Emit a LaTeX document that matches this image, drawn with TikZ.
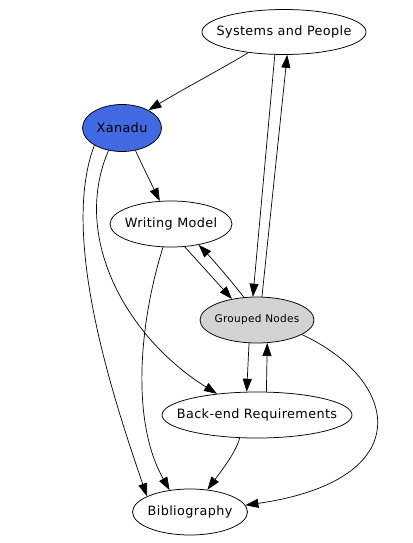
\documentclass[tikz,border=0pt]{standalone}
\usepackage{fontspec}
\setmainfont{DejaVu Sans}[LetterSpace=3]
\usetikzlibrary{shapes.geometric,arrows.meta}
\definecolor{xanblue}{RGB}{65,105,225}
\definecolor{grpgray}{RGB}{211,211,211}
\newcommand\nlbl[1]{\makebox[0pt]{#1}}
\tikzset{
  gvnode/.style={ellipse, draw=black, line width=0.75pt, inner sep=0pt, fill=white,
    font=\fontsize{12.8}{15}\selectfont},
  edge/.style={draw=black, line width=0.7pt, -{Triangle[length=13pt,width=9pt]}}
}
\begin{document}
\begin{tikzpicture}[x=1pt,y=-1pt]
\useasboundingbox (0,0) rectangle (412,543);
\node[gvnode, minimum width=164pt, minimum height=45pt] (sp) at (284,32) {\nlbl{Systems and People}};
\node[gvnode, minimum width=79pt, minimum height=47pt, fill=xanblue] (xa) at (122,128) {\nlbl{Xanadu}};
\node[gvnode, minimum width=122pt, minimum height=46pt] (wm) at (171,224) {\nlbl{Writing Model}};
\node[gvnode, minimum width=114pt, minimum height=46pt, fill=grpgray, font=\fontsize{10.5}{13}\selectfont] (gn) at (257,320) {\nlbl{Grouped Nodes}};
\node[gvnode, minimum width=190pt, minimum height=46pt] (be) at (257,415) {\nlbl{Back-end Requirements}};
\node[gvnode, minimum width=115pt, minimum height=46pt] (bi) at (190,512) {\nlbl{Bibliography}};

\draw[edge] (sp.210) .. controls (225,67) and (185,88) .. (xa.34);
\draw[edge] (sp.248) -- (gn.100);
\draw[edge] (gn.78) -- (sp.278);
\draw[edge] (xa.301) .. controls (142,165) and (152,185) .. (wm.116);
\draw[edge] (wm.301) -- (gn.140);
\draw[edge] (gn.120) .. controls (232,282) and (215,262) .. (wm.323);
\draw[edge] (xa.212) .. controls (60,235) and (112,395) .. (bi.160);
\draw[edge] (xa.239) .. controls (70,240) and (130,340) .. (be.152);
\draw[edge] (wm.251) .. controls (140,320) and (130,420) .. (bi.133);
\draw[edge] (gn.251) -- (be.114);
\draw[edge] (be.68) -- (gn.294);
\draw[edge] (gn.342) .. controls (400,380) and (420,480) .. (bi.7);
\draw[edge] (be.233) .. controls (236,452) and (222,470) .. (bi.52);
\end{tikzpicture}
\end{document}
